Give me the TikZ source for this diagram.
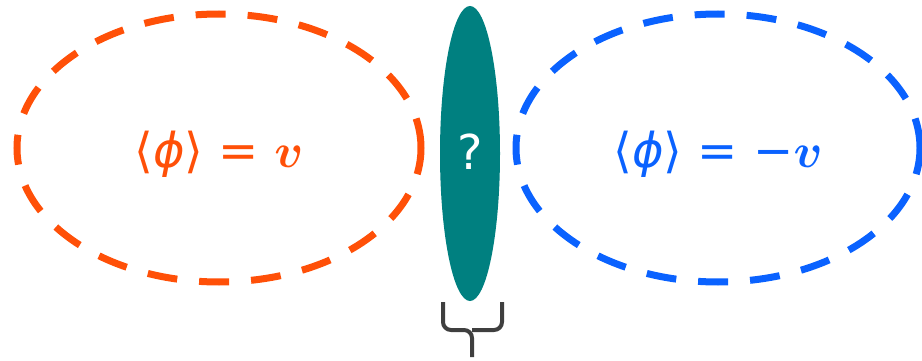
\documentclass[tikz,border=0pt]{standalone}
\usepackage{graphicx}
\usepackage{fontspec}
\setmainfont{DejaVu Sans}
\newfontfamily\djit{DejaVu Sans Oblique}
\usetikzlibrary{shapes.geometric}
\definecolor{vorange}{HTML}{FF5008}
\definecolor{vblue}{HTML}{0A62FF}
\definecolor{vteal}{HTML}{008080}
\definecolor{bracegray}{HTML}{3F3F3F}
\newcommand{\vv}{\scalebox{4.8}{\fontsize{10}{12}\selectfont\boldmath$v$}}
\tikzset{
  vacuum/.style={ellipse, dashed, line width=7pt, dash pattern=on 30pt off 22pt,
    minimum width=404pt, minimum height=268pt, inner sep=0pt, font=\fontsize{48}{56}\selectfont},
  wall/.style={ellipse, fill=vteal, minimum width=60pt, minimum height=295pt, inner sep=0pt,
    text=white, font=\fontsize{48}{56}\selectfont},
  bracestyle/.style={draw=bracegray, line width=4pt, rounded corners=8pt}
}
\begin{document}
\begin{tikzpicture}[x=1pt,y=-1pt]
\useasboundingbox (0,0) rectangle (922,361);
\node[vacuum, draw=vorange, text=vorange] (L) at (219,148) {\raisebox{-6pt}[\height][\depth]{⟨{\djit ϕ}⟩ = \vv}};
\node[vacuum, draw=vblue, text=vblue] (R) at (718,148) {\raisebox{-6pt}[\height][\depth]{⟨{\djit ϕ}⟩ = −\vv}};
\node[wall] (W) at (470,153.5) {\raisebox{2pt}[\height][\depth]{?}};
\coordinate (bl) at (443,302);
\coordinate (br) at (502,302);
\coordinate (bs) at (472,357);
\draw[bracestyle] (bl) -- (443,330) -- (472,330) -- (bs);
\draw[bracestyle] (br) -- (502,330) -- (472,330);
\end{tikzpicture}
\end{document}
